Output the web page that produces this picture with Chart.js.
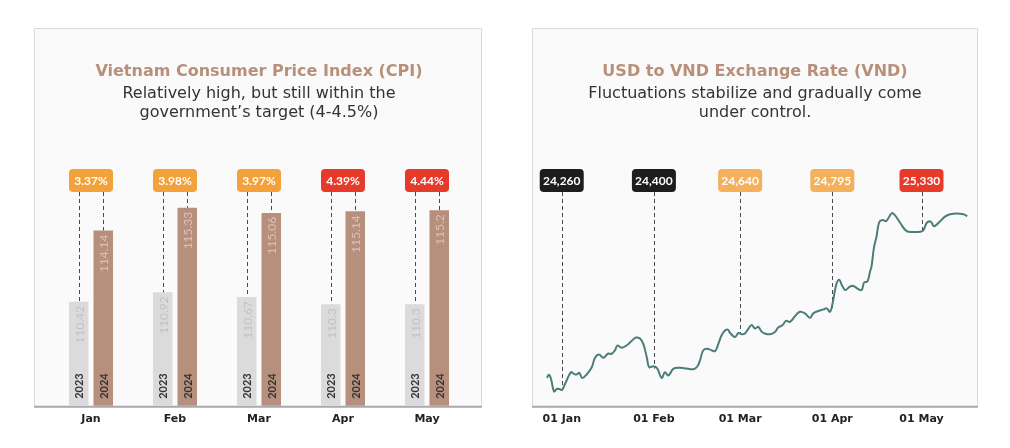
<!DOCTYPE html>
<html>
<head>
<meta charset="utf-8">
<script src="https://cdn.jsdelivr.net/npm/chart.js@4.4.1/dist/chart.umd.min.js"></script>
<style>
    html, body { margin: 0; padding: 0; background: #fff; }
    body { width: 1010px; height: 448px; position: relative; overflow: hidden; }
    .panel { position: absolute; top: 28px; height: 420px; }
    #cpuBox { left: 34px; width: 448px; }
    #fxBox { left: 532px; width: 446px; }
</style>
</head>
<body>
<div class="panel" id="cpuBox"><canvas id="cpuChart"></canvas></div>
<div class="panel" id="fxBox"><canvas id="fxChart"></canvas></div>
<script>
    // CPI (index values) per month
    const months = ['Jan', 'Feb', 'Mar', 'Apr', 'May'];
    const cpi2023 = [110.42, 110.92, 110.67, 110.3, 110.3];
    const cpi2024 = [114.14, 115.33, 115.06, 115.14, 115.2];
    const cpiGrowth = ['3.37%', '3.98%', '3.97%', '4.39%', '4.44%'];
    const growthColors = ['#f2a13b', '#f2a13b', '#f2a13b', '#e63a2b', '#e63a2b'];

    // USD/VND rate, x = days counted from 01 Jan 2024
    const rateDays = [
        -5.0, -4.3, -3.6, -2.6, -1.7, -0.8, 0.1, 1.1, 3.1, 4.1,
        5.0, 5.9, 6.9, 8.4, 10.1, 11.2, 12.5, 14.0, 15.5, 16.8,
        17.9, 18.7, 20.2, 21.9, 23.5, 25.0, 26.3, 27.4, 28.6, 29.4,
        30.8, 32.0, 33.6, 34.7, 35.9, 37.5, 39.8, 42.0, 44.3, 45.6,
        46.5, 47.6, 49.0, 50.4, 51.6, 52.7, 54.1, 55.7, 56.8, 58.3,
        59.4, 60.5, 61.6, 62.8, 63.9, 65.0, 66.1, 67.3, 68.3, 70.0,
        71.7, 72.8, 74.3, 75.4, 76.8, 78.5, 80.1, 81.8, 83.5, 84.6,
        86.3, 88.0, 89.1, 90.2, 91.1, 92.3, 93.3, 94.2, 95.3, 97.0,
        98.1, 99.8, 100.9, 101.7, 102.8, 103.7, 104.2, 105.0, 105.9, 106.8,
        108.0, 109.1, 111.0, 112.1, 113.8, 116.0, 118.3, 120.5, 121.6, 122.8,
        124.1, 125.2, 127.0, 128.9, 130.6, 132.8, 135.1, 136.4
    ];
    const rateValues = [
        24338, 24359, 24331, 24247, 24263, 24263, 24257, 24297, 24376, 24365,
        24361, 24372, 24338, 24361, 24410, 24474, 24496, 24474, 24501, 24501,
        24524, 24556, 24542, 24558, 24587, 24610, 24603, 24569, 24478, 24410,
        24417, 24406, 24338, 24376, 24354, 24399, 24406, 24401, 24397, 24415,
        24456, 24524, 24535, 24524, 24519, 24569, 24637, 24664, 24637, 24614,
        24641, 24632, 24637, 24671, 24694, 24671, 24682, 24648, 24637, 24632,
        24648, 24678, 24694, 24723, 24716, 24755, 24784, 24773, 24743, 24773,
        24789, 24800, 24807, 24784, 24841, 24965, 24999, 24965, 24931, 24954,
        24958, 24936, 24931, 24981, 24988, 25056, 25090, 25215, 25293, 25389,
        25402, 25395, 25448, 25434, 25384, 25327, 25321, 25323, 25332, 25384,
        25391, 25361, 25389, 25425, 25441, 25446, 25441, 25429
    ];
    const tickDays = [0, 31, 60, 91, 121];
    const tickLabels = ['01 Jan', '01 Feb', '01 Mar', '01 Apr', '01 May'];
    const markValues = [24260, 24400, 24640, 24795, 25330];
    const markColors = ['#1d1d1d', '#1d1d1d', '#f4b05a', '#f4b05a', '#e63a2b'];

    Chart.defaults.font.family = 'Lato';
    Chart.defaults.animation = false;

    const TAG_W = 44, TAG_H = 23, TAG_OFFSET = 47;

    function drawTag(ctx, cx, top, text, color) {
        ctx.fillStyle = color;
        ctx.beginPath();
        ctx.roundRect(cx - TAG_W / 2, top, TAG_W, TAG_H, 4);
        ctx.fill();
        ctx.fillStyle = '#fff';
        ctx.font = 'bold 12px Lato';
        ctx.textAlign = 'center';
        ctx.textBaseline = 'middle';
        ctx.fillText(text, cx, top + TAG_H / 2 + 0.5);
    }

    function dashLine(ctx, x, y1, y2) {
        ctx.save();
        ctx.strokeStyle = '#4a4a4a';
        ctx.lineWidth = 1;
        ctx.setLineDash([4, 3]);
        ctx.beginPath();
        ctx.moveTo(Math.round(x) + 0.5, y1);
        ctx.lineTo(Math.round(x) + 0.5, y2);
        ctx.stroke();
        ctx.restore();
    }

    // light panel with border and grey base line
    const panelBg = {
        id: 'panelBg',
        beforeDraw(chart) {
            const { ctx, width, chartArea } = chart;
            const b = chartArea.bottom;
            ctx.save();
            ctx.fillStyle = '#fafafa';
            ctx.fillRect(0, 0, width, b);
            ctx.strokeStyle = '#dadada';
            ctx.lineWidth = 1;
            ctx.beginPath();
            ctx.moveTo(0.5, b);
            ctx.lineTo(0.5, 0.5);
            ctx.lineTo(width - 0.5, 0.5);
            ctx.lineTo(width - 0.5, b);
            ctx.stroke();
            ctx.strokeStyle = '#a9a9a9';
            ctx.lineWidth = 2;
            ctx.beginPath();
            ctx.moveTo(0, b + 1);
            ctx.lineTo(width, b + 1);
            ctx.stroke();
            ctx.restore();
        }
    };

    const cpiLabels = {
        id: 'cpiLabels',
        afterDatasetsDraw(chart) {
            const { ctx, chartArea, scales } = chart;
            const m23 = chart.getDatasetMeta(0).data;
            const m24 = chart.getDatasetMeta(1).data;
            const tagTop = chartArea.top + TAG_OFFSET;
            ctx.save();
            months.forEach((m, i) => {
                const cx = scales.x.getPixelForValue(i);
                dashLine(ctx, m23[i].x, tagTop + TAG_H, m23[i].y);
                dashLine(ctx, m24[i].x, tagTop + TAG_H, m24[i].y);
                drawTag(ctx, cx, tagTop, cpiGrowth[i], growthColors[i]);

                [[m23[i], cpi2023[i], '#c2c2c2', '2023'], [m24[i], cpi2024[i], '#dcc1b1', '2024']].forEach(([bar, v, col, yr]) => {
                    ctx.save();
                    ctx.translate(bar.x, bar.y + 4);
                    ctx.rotate(-Math.PI / 2);
                    ctx.font = '12px Lato';
                    ctx.fillStyle = col;
                    ctx.textAlign = 'right';
                    ctx.textBaseline = 'middle';
                    ctx.fillText(String(v), 0, 1);
                    ctx.restore();

                    ctx.save();
                    ctx.translate(bar.x, chartArea.bottom - 7);
                    ctx.rotate(-Math.PI / 2);
                    ctx.font = 'bold 11px Lato';
                    ctx.fillStyle = '#333';
                    ctx.textAlign = 'left';
                    ctx.textBaseline = 'middle';
                    ctx.fillText(yr, 0, 1);
                    ctx.restore();
                });
            });
            ctx.restore();
        }
    };

    const rateMarks = {
        id: 'rateMarks',
        beforeDatasetsDraw(chart) {
            const { ctx, chartArea, scales } = chart;
            const tagTop = chartArea.top + TAG_OFFSET;
            tickDays.forEach((d, i) => {
                const x = scales.x.getPixelForValue(d);
                dashLine(ctx, x, tagTop + TAG_H, scales.y.getPixelForValue(markValues[i]));
            });
        },
        afterDatasetsDraw(chart) {
            const { ctx, chartArea, scales } = chart;
            const tagTop = chartArea.top + TAG_OFFSET;
            ctx.save();
            tickDays.forEach((d, i) => {
                const x = scales.x.getPixelForValue(d);
                drawTag(ctx, x, tagTop, markValues[i].toLocaleString('en-US'), markColors[i]);
            });
            ctx.restore();
        }
    };

    const titleOpts = (text) => ({
        display: true,
        text: text,
        color: '#b8907a',
        font: { family: 'DejaVu Sans', size: 16, weight: 'bold', lineHeight: '20px' },
        padding: { top: 34, bottom: 0 }
    });
    const subtitleOpts = (lines) => ({
        display: true,
        text: lines,
        color: '#333',
        font: { family: 'DejaVu Sans', size: 16, weight: 'normal', lineHeight: '19px' },
        padding: { top: 2, bottom: 0 }
    });
    const xTickFont = { family: 'DejaVu Sans', size: 11, weight: 'bold' };

    new Chart(document.getElementById('cpuChart'), {
        type: 'bar',
        data: {
            labels: months,
            datasets: [
                { label: '2023', data: cpi2023, backgroundColor: '#dbdbdb', barPercentage: 0.796, categoryPercentage: 0.583 },
                { label: '2024', data: cpi2024, backgroundColor: '#b6907c', barPercentage: 0.796, categoryPercentage: 0.583 }
            ]
        },
        options: {
            responsive: true,
            maintainAspectRatio: false,
            layout: { padding: { left: 15, right: 13, top: 0, bottom: 15 } },
            plugins: {
                legend: { display: false },
                tooltip: { enabled: false },
                title: titleOpts('Vietnam Consumer Price Index (CPI)'),
                subtitle: subtitleOpts(['Relatively high, but still within the', 'government\u2019s target (4-4.5%)'])
            },
            scales: {
                x: {
                    grid: { display: false, drawTicks: false },
                    border: { display: false },
                    ticks: { color: '#222', font: xTickFont, padding: 7 }
                },
                y: { display: false, min: 105, max: 119.8 }
            }
        },
        plugins: [panelBg, cpiLabels]
    });

    new Chart(document.getElementById('fxChart'), {
        type: 'line',
        data: {
            datasets: [{
                label: 'USD/VND',
                data: rateDays.map((d, i) => ({ x: d, y: rateValues[i] })),
                borderColor: '#4b7d79',
                borderWidth: 2,
                pointRadius: 0,
                tension: 0.4,
                fill: false
            }]
        },
        options: {
            responsive: true,
            maintainAspectRatio: false,
            layout: { padding: { left: 0, right: 0, top: 0, bottom: 15 } },
            plugins: {
                legend: { display: false },
                tooltip: { enabled: false },
                title: titleOpts('USD to VND Exchange Rate (VND)'),
                subtitle: subtitleOpts(['Fluctuations stabilize and gradually come', 'under control.'])
            },
            scales: {
                x: {
                    type: 'linear',
                    min: -10,
                    max: 140,
                    grid: { display: false, drawTicks: false },
                    border: { display: false },
                    afterBuildTicks: (s) => { s.ticks = tickDays.map(v => ({ value: v })); },
                    ticks: {
                        autoSkip: false,
                        maxRotation: 0,
                        color: '#222',
                        font: xTickFont,
                        padding: 7,
                        callback: (v) => tickLabels[tickDays.indexOf(v)]
                    }
                },
                y: { display: false, min: 24150, max: 26063 }
            }
        },
        plugins: [panelBg, rateMarks]
    });
</script>
</body>
</html>
